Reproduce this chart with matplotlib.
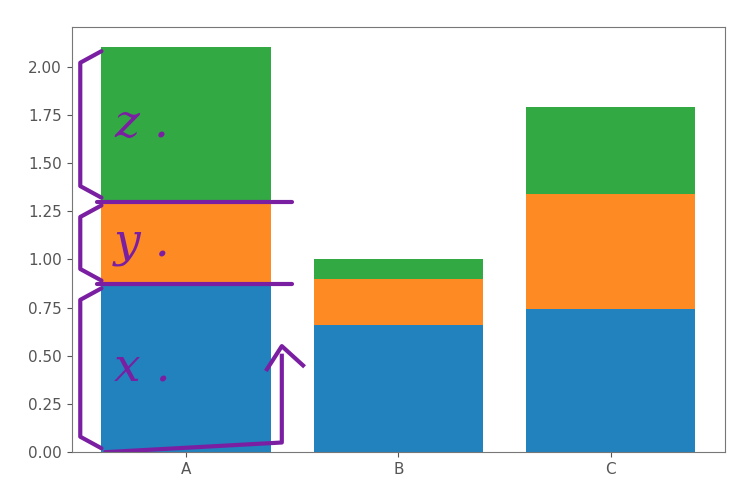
import matplotlib
matplotlib.use("Agg")
import matplotlib.pyplot as plt
import numpy as np

labels = ["A", "B", "C"]
x_vals = [0.87, 0.66, 0.74]
y_vals = [0.43, 0.24, 0.60]
z_vals = [0.80, 0.10, 0.45]

pen = "#7b1fa2"

fig = plt.figure(figsize=(7.4, 4.92), dpi=100)
ax = fig.add_axes([0.097, 0.081, 0.883, 0.864])

pos = np.arange(len(labels))
xb = np.array(x_vals)
yb = xb + np.array(y_vals)
ax.bar(pos, x_vals, color="#2182bd")
ax.bar(pos, y_vals, bottom=xb, color="#fe8a24")
ax.bar(pos, z_vals, bottom=yb, color="#33a944")
ax.set_xlim(-0.54, 2.54)
ax.set_ylim(0, 2.205)

ax.set_xticks(pos)
ax.set_xticklabels(labels)
ax.tick_params(labelsize=11, colors="#555555")
for s in ax.spines.values():
    s.set_color("#777777")

# handwritten notes on bar A
lo = [0, xb[0], yb[0]]
hi = [xb[0], yb[0], yb[0] + z_vals[0]]
for name, a, b in zip(["x .", "y .", "z ."], lo, hi):
    mid = (a + b) / 2
    ax.text(-0.34, mid, name, color=pen, fontsize=34, style="italic",
            ha="left", va="center", family="DejaVu Serif")
    ax.plot([-0.4, -0.5, -0.5, -0.4], [b - 0.02, b - 0.08, a + 0.08, a + 0.02],
            color=pen, lw=3, solid_capstyle="round")
for b in [xb[0], yb[0]]:
    ax.plot([-0.42, 0.5], [b, b], color=pen, lw=3, solid_capstyle="round")
ax.plot([-0.38, 0.45, 0.45], [0.0, 0.05, 0.5], color=pen, lw=3)
ax.plot([0.38, 0.45, 0.55], [0.43, 0.55, 0.45], color=pen, lw=3)

plt.savefig("out.png")
